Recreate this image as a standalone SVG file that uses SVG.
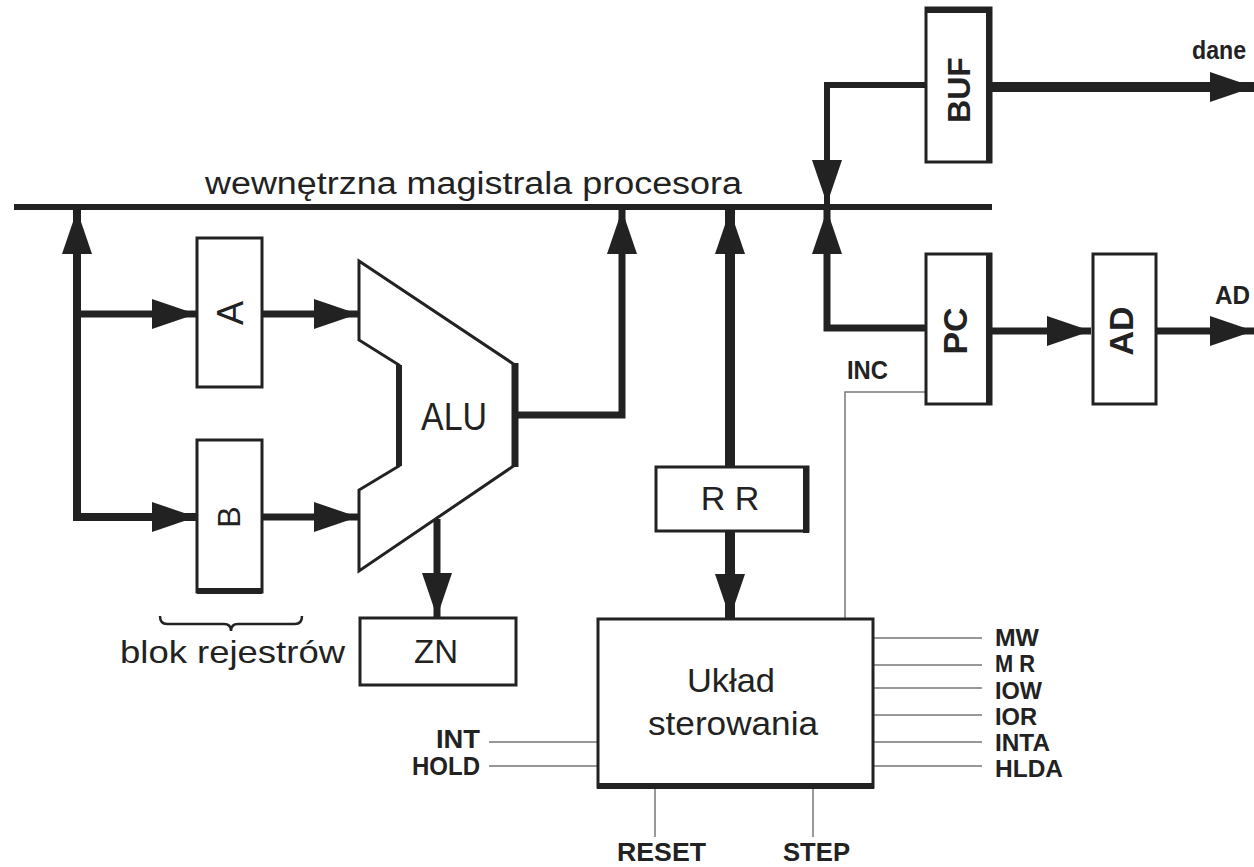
<svg xmlns="http://www.w3.org/2000/svg" width="1254" height="867" viewBox="0 0 1254 867">
<style>
.box{fill:#fff;stroke:#222;stroke-width:3}
.thick{stroke:#222;fill:none}
.wire{stroke:#222;fill:none;stroke-width:7;stroke-linejoin:miter}
.sig{stroke:#777;fill:none;stroke-width:1.5}
.t{font-family:"Liberation Sans",Arial,sans-serif;fill:#222}
.lbl{font-family:"Liberation Sans",Arial,sans-serif;font-weight:bold;fill:#222;font-size:25px}
.sl{font-family:"Liberation Sans",Arial,sans-serif;font-weight:bold;fill:#222;font-size:23px}
</style>
<defs>
<marker id="ah" viewBox="0 0 44 30" markerWidth="44" markerHeight="30" markerUnits="userSpaceOnUse" refX="44" refY="15" orient="auto-start-reverse">
<path d="M0,0 L44,15 L0,30 z" fill="#222"/>
</marker>
</defs>
<g id="connectors">
<line x1="14" y1="207" x2="992" y2="207" stroke="#222" stroke-width="6"/>
<path class="wire" d="M77,210 V517 H196" style="stroke-width:8" marker-start="url(#ah)" marker-end="url(#ah)"/>
<path class="wire" d="M77,314 H196" marker-end="url(#ah)"/>
<path class="wire" d="M262,314 H358" marker-end="url(#ah)"/>
<path class="wire" d="M262,517 H358" marker-end="url(#ah)"/>
<path class="wire" d="M515,415 H622 V210" marker-end="url(#ah)"/>
<path class="wire" d="M437,519 V617" marker-end="url(#ah)"/>
<path class="wire" d="M730,210 V618" style="stroke-width:10" marker-start="url(#ah)" marker-end="url(#ah)"/>
<path class="wire" d="M926,328 H827 V210" marker-end="url(#ah)"/>
<path class="wire" d="M926,85 H827 V204" style="stroke-width:6" marker-end="url(#ah)"/>
<path class="wire" d="M991,87 H1254" style="stroke-width:10" marker-end="url(#ah)"/>
<path class="wire" d="M991,331 H1091" marker-end="url(#ah)"/>
<path class="wire" d="M1156,331 H1254" marker-end="url(#ah)"/>
<path class="sig" d="M845,619 V392 H927"/>
<path class="sig" d="M873,638 H982 M873,665 H982 M873,688 H982 M873,715 H982 M873,742 H982 M873,766 H982"/>
<path class="sig" d="M489,742 H598 M489,766 H598"/>
<path class="sig" d="M655,787 V837 M813,787 V837"/>
<path d="M160,616 Q160,624 167,624 H224 Q231,624 231,631 Q231,624 238,624 H295 Q302,624 302,616" fill="none" stroke="#222" stroke-width="2.5"/>
</g>
<text class="t" x="205" y="194" font-size="31" textLength="537" lengthAdjust="spacingAndGlyphs">wewnętrzna magistrala procesora</text>
<g id="regA">
<rect class="box" x="197" y="238" width="65" height="149"/>
<text class="t" font-size="36" text-anchor="middle" transform="translate(243,313) rotate(-90)">A</text>
</g>
<g id="regB">
<rect class="box" x="197" y="440" width="65" height="152"/>
<line class="thick" x1="197" y1="591" x2="262" y2="591" stroke-width="6"/>
<text class="t" font-size="32" text-anchor="middle" transform="translate(240,517) rotate(-90)">B</text>
</g>
<g id="blok">
<text class="t" x="120" y="663" font-size="32" textLength="225" lengthAdjust="spacingAndGlyphs">blok rejestrów</text>
</g>
<g id="alu">
<polygon class="box" points="359,261 515,365 515,465 359,571 359,490 399,466 399,365 359,340"/>
<line class="thick" x1="515" y1="363" x2="515" y2="467" stroke-width="7"/>
<line class="thick" x1="399" y1="365" x2="399" y2="466" stroke-width="6"/>
<text class="t" x="454" y="430" font-size="38" text-anchor="middle" textLength="66" lengthAdjust="spacingAndGlyphs">ALU</text>
</g>
<g id="zn">
<rect class="box" x="360" y="618" width="156" height="67"/>
<text class="t" x="436" y="663" font-size="33" text-anchor="middle">ZN</text>
</g>
<g id="rr">
<rect class="box" x="656" y="467" width="152" height="64"/>
<line class="thick" x1="806" y1="466" x2="806" y2="533" stroke-width="6"/>
<text class="t" x="730" y="510" font-size="34" text-anchor="middle">R R</text>
</g>
<g id="uklad">
<rect class="box" x="598" y="619" width="275" height="168"/>
<line class="thick" x1="597" y1="786" x2="874" y2="786" stroke-width="6"/>
<text class="t" x="731" y="692" font-size="34" text-anchor="middle" textLength="88" lengthAdjust="spacingAndGlyphs">Układ</text>
<text class="t" x="733" y="735" font-size="34" text-anchor="middle" textLength="170" lengthAdjust="spacingAndGlyphs">sterowania</text>
</g>
<g id="pc">
<rect class="box" x="926" y="254" width="65" height="150"/>
<line class="thick" x1="989" y1="253" x2="989" y2="405" stroke-width="6"/>
<text class="t" font-size="34" font-weight="bold" text-anchor="middle" transform="translate(967,331) rotate(-90)">PC</text>
</g>
<g id="ad">
<rect class="box" x="1093" y="254" width="63" height="150"/>
<text class="t" font-size="34" font-weight="bold" text-anchor="middle" transform="translate(1133,331) rotate(-90)">AD</text>
</g>
<g id="buf">
<rect class="box" x="926" y="8" width="65" height="154"/>
<line class="thick" x1="925" y1="10" x2="992" y2="10" stroke-width="6"/>
<line class="thick" x1="989" y1="8" x2="989" y2="163" stroke-width="6"/>
<text class="t" font-size="32" font-weight="bold" text-anchor="middle" transform="translate(970,90) rotate(-90)">BUF</text>
</g>
<g id="labels">
<text class="lbl" x="1192" y="59" textLength="54" lengthAdjust="spacingAndGlyphs">dane</text>
<text class="lbl" x="1215" y="304" textLength="35" lengthAdjust="spacingAndGlyphs">AD</text>
<text class="lbl" x="847" y="379" textLength="41" lengthAdjust="spacingAndGlyphs">INC</text>
<text class="sl" x="995" y="646" textLength="44" lengthAdjust="spacingAndGlyphs">MW</text>
<text class="sl" x="995" y="672" textLength="40" lengthAdjust="spacingAndGlyphs">M R</text>
<text class="sl" x="995" y="699" textLength="47" lengthAdjust="spacingAndGlyphs">IOW</text>
<text class="sl" x="995" y="725" textLength="42" lengthAdjust="spacingAndGlyphs">IOR</text>
<text class="sl" x="995" y="751" textLength="55" lengthAdjust="spacingAndGlyphs">INTA</text>
<text class="sl" x="995" y="777" textLength="68" lengthAdjust="spacingAndGlyphs">HLDA</text>
<text class="lbl" x="436" y="748" textLength="44" lengthAdjust="spacingAndGlyphs">INT</text>
<text class="lbl" x="412" y="775" textLength="68" lengthAdjust="spacingAndGlyphs">HOLD</text>
<text class="lbl" x="617" y="861" textLength="89" lengthAdjust="spacingAndGlyphs">RESET</text>
<text class="lbl" x="783" y="861" textLength="67" lengthAdjust="spacingAndGlyphs">STEP</text>
</g>
</svg>
